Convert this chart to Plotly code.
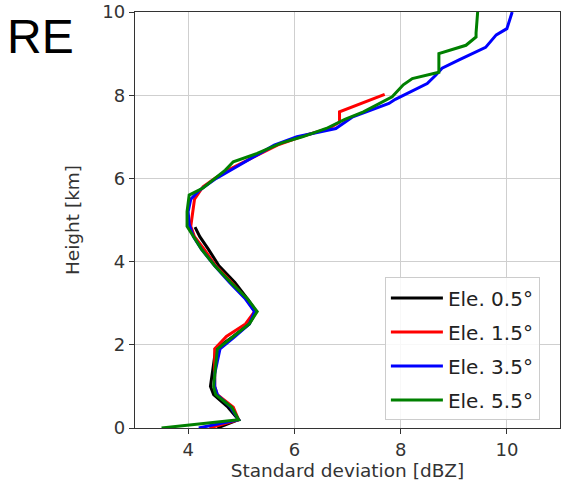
import plotly.graph_objects as go

# ---- data ----
labels = ["Ele. 0.5°", "Ele. 1.5°", "Ele. 3.5°", "Ele. 5.5°"]
colors = ["black", "red", "blue", "green"]

h_05 = [0.0, 0.2, 0.5, 0.8, 1.0, 1.3, 1.6, 1.9, 2.2, 2.5, 2.8, 3.1, 3.5, 3.9, 4.3, 4.6, 4.83]
x_05 = [4.55, 4.95, 4.75, 4.48, 4.42, 4.45, 4.48, 4.52, 4.85, 5.15, 5.28, 5.12, 4.88, 4.58, 4.38, 4.22, 4.13]

h_15 = [0.0, 0.2, 0.5, 0.8, 1.0, 1.3, 1.6, 1.9, 2.2, 2.5, 2.8, 3.1, 3.5, 3.9, 4.3, 4.6, 4.85,
        5.2, 5.5, 5.8, 6.0, 6.2, 6.5, 6.8, 7.0, 7.2, 7.35, 7.6, 8.02]
x_15 = [4.4, 4.95, 4.85, 4.55, 4.5, 4.5, 4.5, 4.5, 4.72, 5.08, 5.25, 5.1, 4.82, 4.52, 4.3, 4.12, 4.05,
        4.08, 4.12, 4.28, 4.5, 4.75, 5.22, 5.68, 6.12, 6.65, 6.85, 6.85, 7.7]

h_35 = [0.0, 0.2, 0.5, 0.8, 1.0, 1.3, 1.6, 1.9, 2.2, 2.5, 2.8, 3.1, 3.5, 3.9, 4.3, 4.6, 4.9,
        5.2, 5.5, 5.7, 6.0, 6.2, 6.5, 6.8, 7.0, 7.2, 7.48, 7.6, 7.8, 7.9, 8.1, 8.28, 8.48, 8.65,
        8.85, 9.15, 9.45, 9.6, 10.0]
x_35 = [4.2, 4.95, 4.8, 4.55, 4.5, 4.5, 4.55, 4.6, 4.88, 5.15, 5.25, 5.08, 4.78, 4.5, 4.25, 4.1, 4.02,
        4.0, 4.05, 4.2, 4.53, 4.8, 5.22, 5.62, 6.05, 6.78, 7.1, 7.35, 7.78, 7.9, 8.2, 8.5, 8.66, 8.78,
        9.1, 9.6, 9.8, 10.0, 10.1]

h_55 = [0.0, 0.2, 0.5, 0.8, 1.0, 1.3, 1.6, 1.9, 2.2, 2.5, 2.8, 3.1, 3.5, 3.9, 4.3, 4.6, 4.85,
        5.2, 5.6, 5.77, 6.0, 6.2, 6.4, 6.6, 6.85, 7.0, 7.2, 7.42, 7.6, 7.8, 7.96, 8.25, 8.4, 8.55,
        8.6, 9.0, 9.2, 9.4, 9.5, 10.0]
x_55 = [3.5, 4.95, 4.82, 4.52, 4.48, 4.5, 4.52, 4.55, 4.85, 5.15, 5.3, 5.12, 4.8, 4.5, 4.25, 4.1, 3.98,
        3.98, 4.02, 4.28, 4.5, 4.7, 4.85, 5.3, 5.75, 6.15, 6.6, 6.95, 7.3, 7.6, 7.84, 8.05, 8.22, 8.72,
        8.72, 8.72, 9.23, 9.42, 9.42, 9.45]

series_x = [x_05, x_15, x_35, x_55]
series_h = [h_05, h_15, h_35, h_55]

x_ticks = [4, 6, 8, 10]
y_ticks = [0, 2, 4, 6, 8, 10]

FONT = "DejaVu Sans"

fig = go.Figure()
for i in range(4):
    fig.add_trace(go.Scatter(
        x=series_x[i], y=series_h[i], mode="lines", name=labels[i],
        line=dict(color=colors[i], width=3), legendgroup=f"g{i}",
    ))

axis_common = dict(
    showgrid=True, gridcolor="#cfcfcf", gridwidth=1,
    showline=True, linecolor="#333333", linewidth=1.3, mirror=True,
    ticks="outside", ticklen=5, tickcolor="#333333",
    tickfont=dict(family=FONT, size=18, color="#333333"),
    zeroline=False, automargin=False,
)

fig.update_layout(
    width=562, height=495,
    margin=dict(l=135, r=2, t=12, b=67),
    paper_bgcolor="white", plot_bgcolor="white",
    xaxis=dict(range=[3, 11], tickvals=x_ticks,
               title=dict(text="Standard deviation [dBZ]", font=dict(family=FONT, size=18.5, color="#333333"), standoff=4),
               **axis_common),
    yaxis=dict(range=[0, 10], tickvals=y_ticks,
               title=dict(text="Height [km]", font=dict(family=FONT, size=18.5, color="#333333"), standoff=17),
               **axis_common),
    legend=dict(
        x=0.588, y=0.362, xanchor="left", yanchor="top",
        bgcolor="rgba(255,255,255,0.85)", bordercolor="#cccccc", borderwidth=1,
        font=dict(family=FONT, size=20, color="#222222"),
        traceorder="grouped", tracegroupgap=5, itemwidth=52,
    ),
    showlegend=True,
)

fig.add_annotation(
    text="RE", xref="paper", yref="paper", x=-0.305, y=1.01,
    xanchor="left", yanchor="top", showarrow=False,
    font=dict(family="Liberation Sans", size=48, color="black"),
)

fig.write_html(
    "out.html",
    config={"displayModeBar": False},
    post_script="document.body.style.margin='0';document.body.style.overflow='hidden';",
)
